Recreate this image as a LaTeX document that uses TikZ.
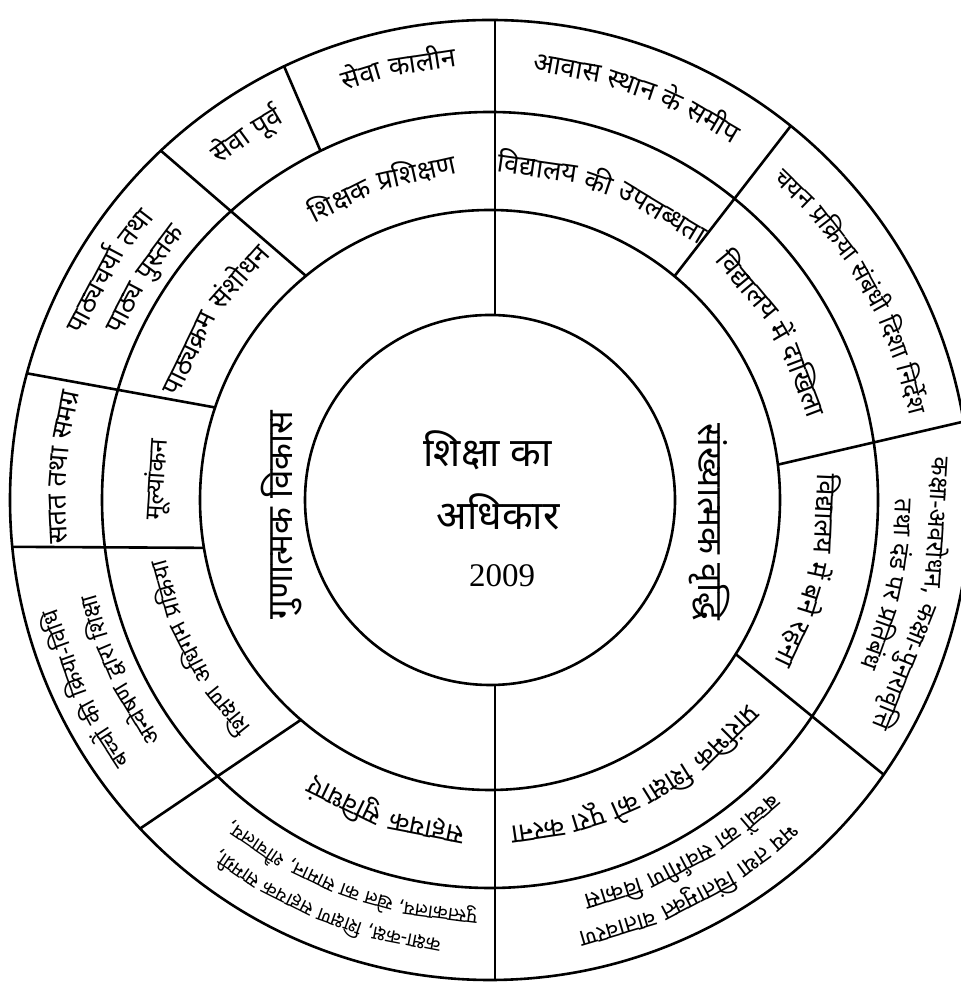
\documentclass[tikz,border=0pt]{standalone}
\usepackage{fontspec}
\newfontfamily\hindi[Script=Devanagari]{Noto Sans}
\newfontfamily\numfont{Liberation Serif}
\newcommand\rf{\hindi\fontsize{27}{30}\selectfont}
\newcommand\rfm{\hindi\fontsize{25}{28}\selectfont}
\newcommand\rfs{\hindi\fontsize{23.5}{26}\selectfont}
\newcommand\rft{\hindi\fontsize{19.5}{22}\selectfont}
\newcommand\cf{\hindi\fontsize{40}{44}\selectfont}
\newcommand\mf{\hindi\fontsize{35}{38}\selectfont}
\newdimen\arcW
\newdimen\arcT
\newdimen\arcS
\newcount\arcN
\tikzset{word/.style={anchor=base,inner sep=0pt},
  ringline/.style={line width=2.6pt,black},
  divline/.style={line width=2.6pt,black}}
% measure the width of a text inside the picture (fonts are restored)
\newcommand\measure[1]{\pgfinterruptpicture\setbox0=\hbox{#1}\global\arcW=\wd0\relax\endpgfinterruptpicture}
% #1 font, #2 baseline radius, #3 middle angle, #4 words (read clockwise)
\newcommand\arcline[4][\rf]{%
  \global\arcT=0pt\relax
  \global\arcN=0\relax
  \foreach \w in {#4}{\measure{#1\w}\global\advance\arcT by \arcW\global\advance\arcN by 1\relax}%
  \measure{#1\ }\global\arcS=\arcW\relax
  \pgfmathsetmacro\arcTot{\arcT+(\arcN-1)*\arcS}%
  \pgfmathsetmacro\arcTmp{#3+(\arcTot/2)/(#2)*180/pi}%
  \xdef\arcCur{\arcTmp}%
  \foreach \w in {#4}{%
    \measure{#1\w}%
    \pgfmathsetmacro\ang{\arcCur-(\arcW/2)/(#2)*180/pi}%
    \node[word,rotate=\ang-90] at (\ang:#2) {#1\w};
    \pgfmathsetmacro\arcTmp{\arcCur-(\arcW+\arcS)/(#2)*180/pi}%
    \xdef\arcCur{\arcTmp}%
  }%
}
\begin{document}
\begin{tikzpicture}[x=1pt,y=1pt]
\useasboundingbox (0,0) rectangle (960,984);
\fill[white] (0,0) rectangle (960,984);
\begin{scope}[shift={(490,484)}]
  \coordinate (C) at (0,0);
  % circles
  \draw[ringline] (C) circle (185);
  \draw[ringline] (C) circle (290);
  \draw[ringline] (C) circle (388);
  \draw[ringline] (C) circle (480);
  % dividers
  \draw[divline] (5,480) -- (5,185);
  \draw[divline] (5,-185) -- (5,-480);
  \draw[divline] (50.5:290) -- (51.2:480);
  \draw[divline] (7:290) -- (9.4:480);
  \draw[divline] (-32.1:290) -- (-34.9:480);
  \draw[divline] (229.3:290) -- (223.2:480);
  \draw[divline] (189.5:290) -- (185.6:480);
  \draw[divline] (161.4:290) -- (164.7:480);
  \draw[divline] (129.4:290) -- (133.3:480);
  \draw[divline] (115.9:388) -- (115.4:480);
  % centre
  \node[word] (c1) at (-2.5,33) {\cf शिक्षा का};
  \node[word] (c2) at (8,-30) {\cf अधिकार};
  \node[word] (c3) at (12,-87) {\numfont\fontsize{33}{36}\selectfont 2009};
  % inner ring
  \node[rotate=90,inner sep=0pt] (g) at (-208,-15) {\mf गुणात्मक विकास};
  \node[rotate=-90,inner sep=0pt] (s) at (219,-22) {\mf संख्यात्मक वृद्धि};
  % middle ring
  \arcline{326}{69.7}{विद्यालय, की, उपलब्धता}
  \arcline{326}{30.5}{विद्यालय, में, दाखिला}
  \arcline{326}{-12.5}{विद्यालय, में, बने, रहना}
  \arcline{326}{-62.3}{प्रारंभिक, शिक्षा, को, पूरा, करना}
  \arcline{326}{251.5}{सहायक, सुविधाएं}
  \arcline[\rfs]{328}{207}{शिक्षण, अधिगम, प्रक्रिया}
  \arcline[\rfm]{326}{176.5}{मूल्यांकन}
  \arcline{326}{146.8}{पाठ्यक्रम, संशोधन}
  \arcline{326}{109}{शिक्षक, प्रशिक्षण}
  % outer ring
  \arcline{430}{70}{आवास, स्थान, के, समीप}
  \arcline[\rfm]{427}{30}{चयन, प्रक्रिया, संबंधी, दिशा, निर्देश}
  \arcline[\rfm]{439}{-12.5}{{कक्षा-अवरोधन,}, कक्षा-पुनरावृत्ति}
  \arcline[\rfm]{405}{-12}{तथा, दंड, पर, प्रतिबंध}
  \arcline[\rfs]{440}{-62.7}{भय, तथा, चिंतामुक्त, वातावरण}
  \arcline[\rfs]{405}{-61.4}{बच्चों, का, सर्वांगीण, विकास}
  \arcline[\rft]{441}{248}{{कक्षा-कक्ष,}, {शिक्षण}, सहायक, {सामग्री,}}
  \arcline[\rft]{410}{249.8}{{पुस्तकालय,}, खेल, का, {सामान,}, {शौचालय,}}
  \arcline[\rfs]{444}{205}{बच्चों, की, क्रिया-विधि}
  \arcline[\rfs]{405}{204.7}{अन्वेषण, द्वारा, शिक्षा}
  \arcline{424}{175.6}{सतत, तथा, समग्र}
  \arcline{438}{149}{पाठ्यचर्या, तथा}
  \arcline{404}{147.4}{पाठ्य, पुस्तक}
  \arcline{430}{123.7}{सेवा, पूर्व}
  \arcline{434}{101.9}{सेवा, कालीन}
\end{scope}
\end{tikzpicture}
\end{document}
